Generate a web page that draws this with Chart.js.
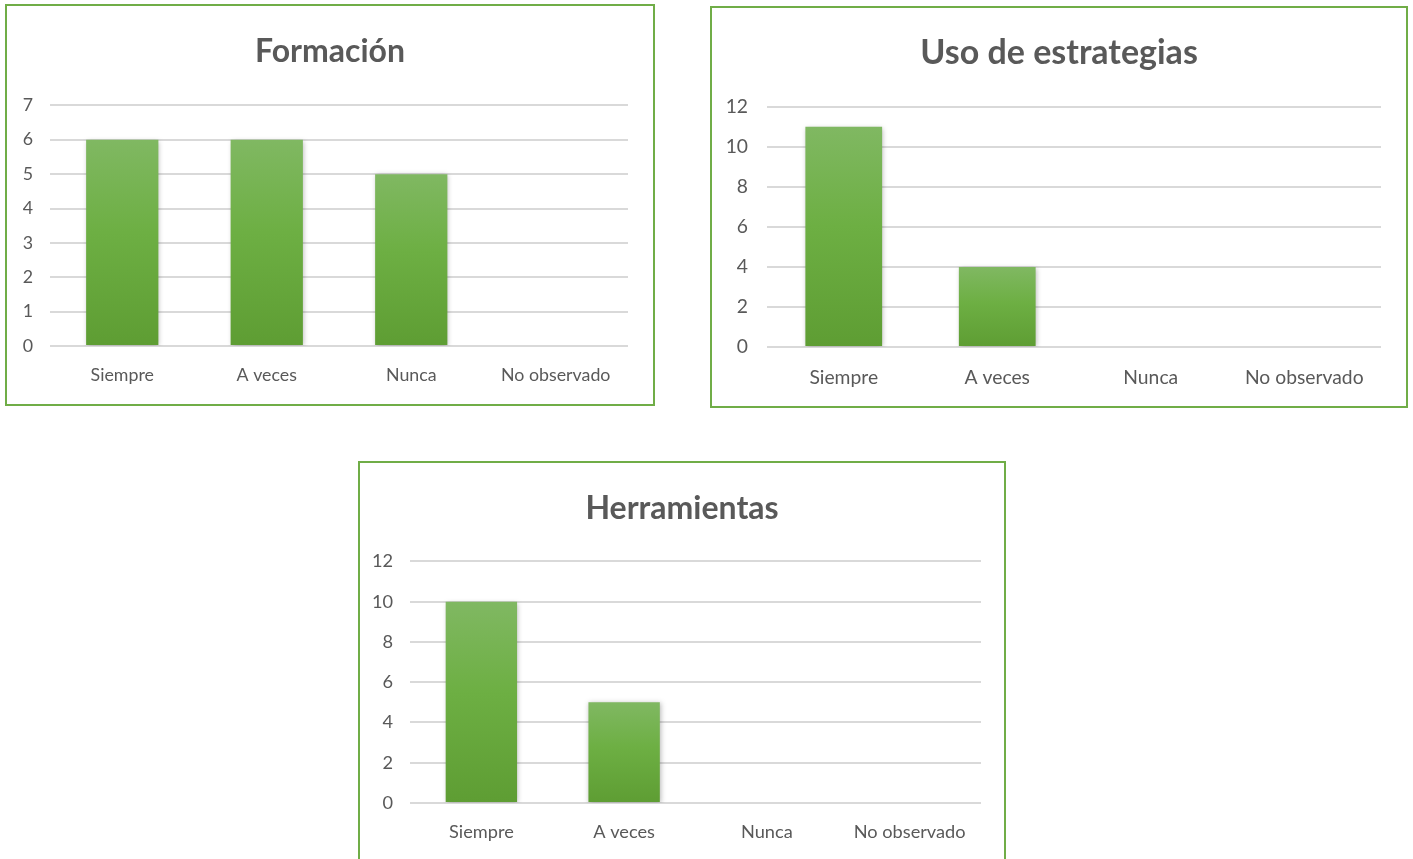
<!DOCTYPE html>
<html>
<head>
<meta charset="utf-8">
<script src="https://cdn.jsdelivr.net/npm/chart.js@4.4.1/dist/chart.umd.min.js"></script>
<style>
  html, body { margin: 0; padding: 0; background: #ffffff; width: 1413px; height: 859px; overflow: hidden; }
  .box { position: absolute; border: 2px solid #70AD47; background: #fff; box-sizing: content-box; }
  .box canvas { display: block; }
</style>
</head>
<body>
<div class="box" id="b1" style="left:5px; top:4px; width:646px; height:398px;"><canvas id="c1" width="646" height="398"></canvas></div>
<div class="box" id="b2" style="left:710px; top:6px; width:694px; height:398px;"><canvas id="c2" width="694" height="398"></canvas></div>
<div class="box" id="b3" style="left:358px; top:461px; width:644px; height:398px;"><canvas id="c3" width="644" height="398"></canvas></div>
<script>
// ---- Data ----
const categories = ["Siempre", "A veces", "Nunca", "No observado"];
const formacionValues = [6, 6, 5, 0];
const estrategiasValues = [11, 4, 0, 0];
const herramientasValues = [10, 5, 0, 0];
const formacionTicks = { max: 7, step: 1 };
const estrategiasTicks = { max: 12, step: 2 };
const herramientasTicks = { max: 12, step: 2 };
const titles = ["Formación", "Uso de estrategias", "Herramientas"];

const FONT = "Lato, 'Open Sans', sans-serif";
const TEXT = "#595959";
const GRID = "#D9D9D9";

const shadowPlugin = {
  id: "barShadow",
  beforeDatasetsDraw(chart) {
    const c = chart.ctx;
    c.save();
    c.shadowColor = "rgba(0,0,0,0.28)";
    c.shadowBlur = 5;
    c.shadowOffsetX = 1;
    c.shadowOffsetY = 1;
  },
  afterDatasetsDraw(chart) { chart.ctx.restore(); }
};

function barGradient(context) {
  const chart = context.chart;
  const ys = chart.scales && chart.scales.y;
  if (!ys || context.raw === undefined) return "#6AAB3F";
  const top = ys.getPixelForValue(context.raw);
  const base = ys.getPixelForValue(0);
  if (!isFinite(top) || !isFinite(base) || top === base) return "#6AAB3F";
  const g = chart.ctx.createLinearGradient(0, top, 0, base);
  g.addColorStop(0, "#80B862");
  g.addColorStop(0.45, "#6DAF43");
  g.addColorStop(1, "#5E9D33");
  return g;
}

function makeChart(id, title, values, ticks, L) {
  new Chart(document.getElementById(id), {
    type: "bar",
    data: {
      labels: categories,
      datasets: [{
        data: values,
        backgroundColor: barGradient,
        borderWidth: 0,
        barPercentage: 0.5,
        categoryPercentage: 1.0
      }]
    },
    plugins: [shadowPlugin],
    options: {
      responsive: false,
      animation: false,
      events: [],
      layout: { padding: 0 },
      plugins: {
        legend: { display: false },
        tooltip: { enabled: false },
        title: {
          display: true,
          text: title,
          color: TEXT,
          font: { family: FONT, size: L.titleSize, weight: "bold", lineHeight: 1.2 },
          padding: { top: L.titleTop, bottom: L.titleBottom }
        }
      },
      scales: {
        x: {
          grid: { display: false, drawTicks: false },
          border: { display: false },
          ticks: { color: TEXT, font: { family: FONT, size: L.tickSize }, padding: L.xPad, maxRotation: 0 },
          afterFit(s) { s.height = L.xHeight; }
        },
        y: {
          min: 0, max: ticks.max,
          grid: { color: GRID, lineWidth: 2, drawTicks: false },
          border: { display: false },
          ticks: { stepSize: ticks.step, color: TEXT, font: { family: FONT, size: L.tickSize }, padding: L.yPad },
          afterFit(s) { s.width = L.yWidth; }
        },
        spacer: {
          type: "linear",
          position: "right",
          display: true,
          grid: { display: false, drawTicks: false },
          border: { display: false },
          ticks: { display: false },
          afterFit(s) { s.width = L.right; }
        }
      }
    }
  });
}

makeChart("c1", titles[0], formacionValues, formacionTicks,
  { right: 25, titleSize: 32, titleTop: 26, titleBottom: 35, tickSize: 17.8, xPad: 19, xHeight: 58, yPad: 17, yWidth: 43 });
makeChart("c2", titles[1], estrategiasValues, estrategiasTicks,
  { right: 25, titleSize: 34, titleTop: 25, titleBottom: 33, tickSize: 19.3, xPad: 19, xHeight: 59, yPad: 19, yWidth: 55 });
makeChart("c3", titles[2], herramientasValues, herramientasTicks,
  { right: 23, titleSize: 32, titleTop: 26, titleBottom: 34, tickSize: 18.2, xPad: 18, xHeight: 58, yPad: 17, yWidth: 50 });
</script>
</body>
</html>
